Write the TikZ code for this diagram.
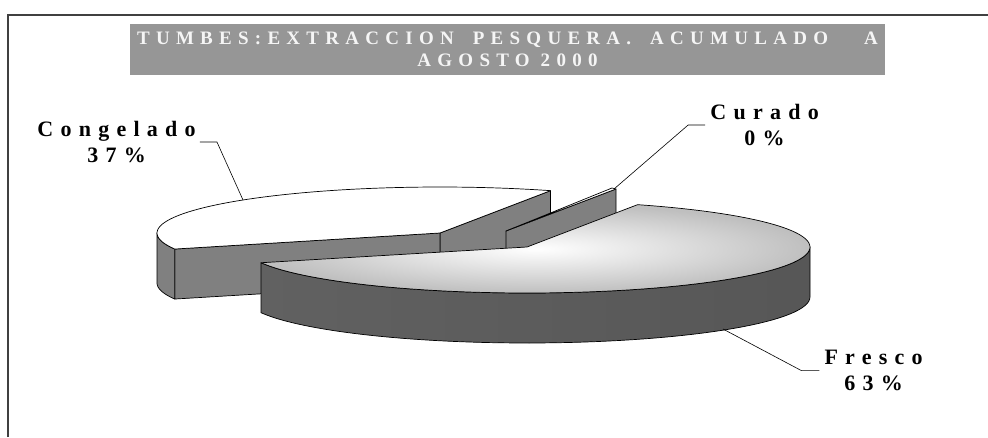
\documentclass[tikz,border=0pt]{standalone}
\usepackage{fontspec}
\setmainfont{Liberation Serif}
\newfontfamily\spreadfont[LetterSpace=33]{Liberation Serif}
\definecolor{banner}{HTML}{969696}
\definecolor{slicegray}{HTML}{808080}
\definecolor{framegray}{HTML}{404040}
\begin{document}
\begin{tikzpicture}[x=1pt,y=-1pt]
	\tikzstyle{label}=[font=\spreadfont\bfseries\fontsize{22}{26}\selectfont,align=center,inner sep=0pt,anchor=north]
	\tikzstyle{face}=[draw=black,line width=0.7pt,line join=round]
	\tikzstyle{leader}=[draw=black,line width=0.6pt]

	\useasboundingbox (0,0) rectangle (988,437);
	\draw[framegray,line width=2pt] (8,437) -- (8,15) -- (988,15);

	\node [fill=banner,minimum width=755pt,minimum height=51pt,inner sep=0pt,align=center,text=white!96!black,font=\spreadfont\bfseries\fontsize{19}{22}\selectfont] (title) at (507.5,49.5) {TUMBES:EXTRACCION\ \hspace{8pt}PESQUERA.\ \hspace{8pt}ACUMULADO\ \ \hspace{14pt}A\\AGOSTO 2000};

	% Congelado
	\coordinate (g) at (440,233);
	\coordinate (g1) at ({440+283*cos(67)},{233-46*sin(67)});
	\coordinate (g2) at ({440+283*cos(200.4)},{233-46*sin(200.4)});
	\path[face,fill=slicegray] (g) -- (g1) -- ++(0,50) -- (440,283) -- cycle;
	\path[face,fill=slicegray] (g2) -- (g) -- (440,283) -- ([yshift=-50pt]g2) -- cycle;
	\path[face,fill=slicegray] plot[domain=180:200.4,samples=20] ({440+283*cos(\x)},{233-46*sin(\x)}) -- plot[domain=200.4:180,samples=20] ({440+283*cos(\x)},{283-46*sin(\x)}) -- cycle;
	\path[face,fill=white] (g) -- (g1) -- plot[domain=67:200.4,samples=60] ({440+283*cos(\x)},{233-46*sin(\x)}) -- cycle;

	% Curado
	\coordinate (c0) at (506,231);
	\coordinate (c1) at (616,189);
	\path[face,fill=slicegray] (c0) -- (c1) -- ++(0,50) -- (506,281) -- cycle;
	\path[face,fill=white] (c0) -- (c1) -- (612,188) -- cycle;

	% Fresco
	\coordinate (f) at (527,247);
	\coordinate (f2) at ({527+283*cos(-160)},{247-46*sin(-160)});
	\path[face,left color=black!62,middle color=black!54,right color=black!66] plot[domain=-160:0,samples=60] ({527+283*cos(\x)},{247-46*sin(\x)}) -- plot[domain=0:-160,samples=60] ({527+283*cos(\x)},{297-46*sin(\x)}) -- cycle;
	\path[face,inner color=white,outer color=black!25] (f) -- (f2) -- plot[domain=-160:67,samples=90] ({527+283*cos(\x)},{247-46*sin(\x)}) -- cycle;

	% labels
	\node [label] (lblcong) at (116.6,121) {Congelado\\37\%};
	\node [label] (lblcur) at (764.6,104) {Curado\\0\%};
	\node [label] (lblfre) at (873.6,350) {Fresco\\63\%};

	\coordinate (gl) at (243,200);
	\coordinate (cl) at (614,189);
	\coordinate (fl) at (723,329);
	\path[leader] ([xshift=4pt]lblcong.east) -- ++(17,0) -- (gl);
	\path[leader] ([xshift=-5pt]lblcur.west) -- ++(-17,0) -- (cl);
	\path[leader] ([xshift=-5pt]lblfre.west) -- ++(-18,0) -- (fl);
\end{tikzpicture}
\end{document}
